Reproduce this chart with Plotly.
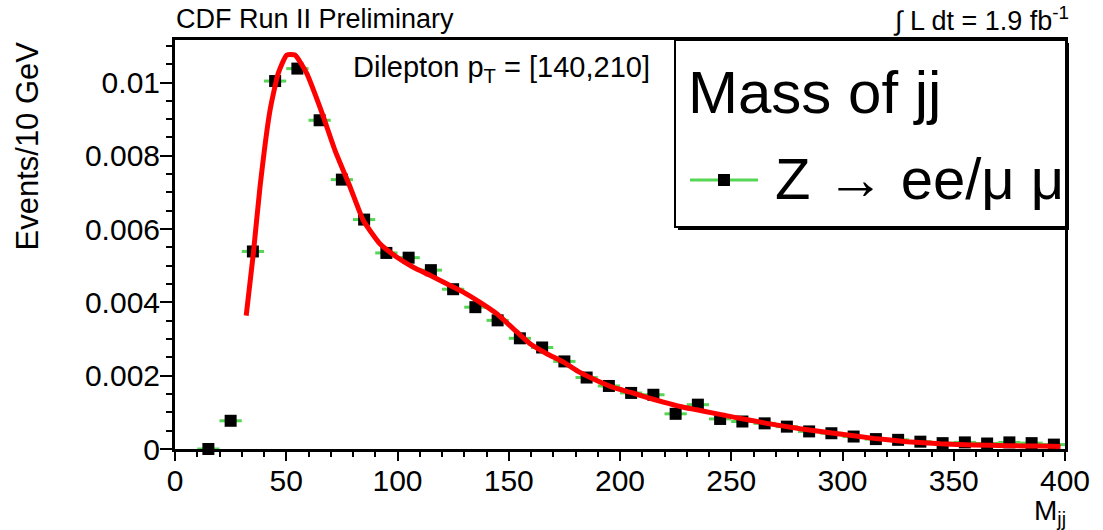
import plotly.graph_objects as go

# ---- data ----
mjj_centers = [15, 25, 35, 45, 55, 65, 75, 85, 95, 105, 115, 125, 135, 145, 155,
               165, 175, 185, 195, 205, 215, 225, 235, 245, 255, 265, 275, 285,
               295, 305, 315, 325, 335, 345, 355, 365, 375, 385, 395]
events = [0.0, 0.00077, 0.00539, 0.01004, 0.01038, 0.00897, 0.00735, 0.00626,
          0.00535, 0.00522, 0.00488, 0.00436, 0.00387, 0.00351, 0.00302, 0.00277,
          0.00239, 0.00195, 0.00172, 0.00153, 0.00148, 0.00096, 0.00121, 0.00082,
          0.00075, 0.00070, 0.00061, 0.00048, 0.00043, 0.00034, 0.00027, 0.00025,
          0.00020, 0.00016, 0.00018, 0.00015, 0.00018, 0.00016, 0.00012]
bin_half_width = 5

fit_x = [32, 35.2, 38.2, 42.7, 46.4, 50.2, 53.9, 59.2, 65.9, 71.9, 78.7, 84.6,
         92.1, 99.6, 107.1, 114.6, 122.1, 129.6, 137.1, 144.6, 152.1, 159.6,
         167.1, 174.6, 182, 189.5, 197, 204.5, 212, 219.5, 227, 234.5, 242, 251,
         266, 281, 296, 314, 329, 344, 359, 374, 389, 398]
fit_y = [0.00364, 0.00533, 0.00715, 0.00924, 0.01025, 0.01075, 0.01075, 0.01025,
         0.0092, 0.00815, 0.00715, 0.00624, 0.0056, 0.00524, 0.00496, 0.00474,
         0.00451, 0.00428, 0.004, 0.00369, 0.00328, 0.00287, 0.0026, 0.00237,
         0.00209, 0.00187, 0.00168, 0.00155, 0.00141, 0.00128, 0.00116, 0.00107,
         0.00098, 0.00087, 0.0007, 0.00055, 0.00043, 0.00029, 0.0002, 0.00014,
         0.00011, 0.00009, 0.00008, 0.00007]

x_tick_vals = [0, 50, 100, 150, 200, 250, 300, 350, 400]
y_tick_vals = [0, 0.002, 0.004, 0.006, 0.008, 0.01]
y_tick_text = ["0", "0.002", "0.004", "0.006", "0.008", "0.01"]

# ---- layout geometry (pixels) ----
W, H = 1103, 530
L, R, T, B = 175, 1065, 40, 449
FONT = "Liberation Sans, Arial, Helvetica, sans-serif"

def px(x):
    return (x - L) / (R - L)

def py(y):
    return (B - y) / (B - T)

fig = go.Figure()

fig.add_trace(go.Scatter(
    x=mjj_centers, y=events, mode="markers",
    marker=dict(symbol="square", size=12, color="black"),
    error_x=dict(type="constant", value=bin_half_width, color="#55d655",
                 thickness=3, width=0),
    showlegend=False, cliponaxis=False,
))

fig.add_trace(go.Scatter(
    x=fit_x, y=fit_y, mode="lines",
    line=dict(color="#ff0000", width=5, shape="spline", smoothing=0.5),
    showlegend=False,
))

shapes = [
    # legend shadow
    dict(type="rect", xref="paper", yref="paper",
         x0=px(678), x1=px(1069), y0=py(230), y1=py(43),
         fillcolor="black", line=dict(width=0), layer="above"),
    # legend box
    dict(type="rect", xref="paper", yref="paper",
         x0=px(675), x1=px(1066), y0=py(227), y1=py(40),
         fillcolor="white", line=dict(color="black", width=2), layer="above"),
    # legend symbol line
    dict(type="line", xref="paper", yref="paper",
         x0=px(690), x1=px(758), y0=py(180), y1=py(180),
         line=dict(color="#55d655", width=3), layer="above"),
    # legend symbol marker
    dict(type="rect", xref="paper", yref="paper",
         x0=px(718), x1=px(730), y0=py(186), y1=py(174),
         fillcolor="black", line=dict(width=0), layer="above"),
]

annotations = [
    dict(text="CDF Run II Preliminary", xref="paper", yref="paper",
         x=px(174), y=py(19), xanchor="left", yanchor="middle",
         showarrow=False, font=dict(family=FONT, size=27, color="black")),
    dict(text="∫ L dt = 1.9 fb<sup>-1</sup>", xref="paper", yref="paper",
         x=px(1071), y=py(19), xanchor="right", yanchor="middle",
         showarrow=False, font=dict(family=FONT, size=27, color="black")),
    dict(text="Dilepton p<sub>T</sub> = [140,210]", xref="paper", yref="paper",
         x=px(351), y=py(69), xanchor="left", yanchor="middle",
         showarrow=False, font=dict(family=FONT, size=29, color="black")),
    dict(text="Mass of jj", xref="paper", yref="paper",
         x=px(686), y=py(92), xanchor="left", yanchor="middle",
         showarrow=False, font=dict(family=FONT, size=60, color="black")),
    dict(text="Z → ee/μ μ", xref="paper", yref="paper",
         x=px(773), y=py(178), xanchor="left", yanchor="middle",
         showarrow=False, font=dict(family=FONT, size=58, color="black")),
    dict(text="Events/10 GeV", xref="paper", yref="paper",
         x=px(27), y=py(40), xanchor="center", yanchor="top", textangle=-90,
         showarrow=False, font=dict(family=FONT, size=31, color="black")),
    dict(text="M<sub>jj</sub>", xref="paper", yref="paper",
         x=px(1068), y=py(512), xanchor="right", yanchor="middle",
         showarrow=False, font=dict(family=FONT, size=28, color="black")),
]

fig.update_layout(
    width=W, height=H,
    margin=dict(l=L, r=W - R, t=T, b=H - B, pad=0),
    paper_bgcolor="white", plot_bgcolor="white",
    font=dict(family=FONT, size=30, color="black"),
    shapes=shapes, annotations=annotations,
    showlegend=False,
)

fig.update_xaxes(
    range=[0, 400], tickvals=x_tick_vals, ticks="outside", ticklen=9,
    tickwidth=2, tickcolor="black", showline=True, linecolor="black",
    linewidth=3, mirror=True, showgrid=False, zeroline=False,
    tickfont=dict(family=FONT, size=30), ticklabelstandoff=-6,
    minor=dict(dtick=10, ticks="outside", ticklen=5, tickwidth=1.5,
               tickcolor="black", showgrid=False),
)
fig.update_yaxes(
    range=[0, 0.01116], tickvals=y_tick_vals, ticktext=y_tick_text,
    ticks="outside", ticklen=12, tickwidth=2, tickcolor="black",
    showline=True, linecolor="black", linewidth=3, mirror=True,
    showgrid=False, zeroline=False, tickfont=dict(family=FONT, size=30),
    ticklabelstandoff=-6,
    minor=dict(tickvals=[i * 0.0005 for i in range(23)], ticks="outside",
               ticklen=6, tickwidth=1.5, tickcolor="black", showgrid=False),
)

fig.write_html("out.html")
